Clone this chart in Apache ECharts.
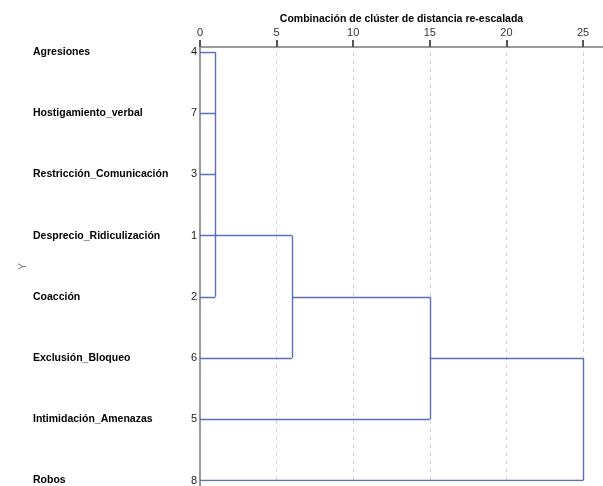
<!DOCTYPE html>
<html>
<head>
<meta charset="utf-8">
<script src="https://cdn.jsdelivr.net/npm/echarts@6/dist/echarts.min.js"></script>
<style>html,body{margin:0;padding:0;background:#fff}#c{width:603px;height:486px}</style>
</head>
<body>
<div id="c"></div>
<script>
// Row labels (top to bottom) and SPSS case numbers
const rowNames = ['Agresiones','Hostigamiento_verbal','Restricción_Comunicación','Desprecio_Ridiculización','Coacción','Exclusión_Bloqueo','Intimidación_Amenazas','Robos'];
const caseNumbers = [4, 7, 3, 1, 2, 6, 5, 8];
// Merge steps: rescaled distance, children (r = row, m = previous merge), row position of the merged cluster line
const mergeDistances = [1, 6, 15, 25];
const mergeChildren = [['r0','r1','r2','r3','r4'], ['m0','r5'], ['m1','r6'], ['m2','r7']];
const mergeRowPos = [3, 4, 5, 6];
// Axis ticks
const xTickMin = 0, xTickMax = 25, xTickStep = 5;

const segs = [];
function childPos(c) {
  const idx = +c.slice(1);
  if (c[0] === 'r') return { x: 0, y: idx };
  return { x: mergeDistances[idx], y: mergeRowPos[idx] };
}
mergeChildren.forEach((ch, i) => {
  const d = mergeDistances[i];
  const ys = [];
  ch.forEach(c => {
    const p = childPos(c);
    ys.push(p.y);
    segs.push({ coords: [[p.x, p.y], [d, p.y]] });
  });
  segs.push({ coords: [[d, Math.min(...ys)], [d, Math.max(...ys)]] });
});

const chart = echarts.init(document.getElementById('c'));
const FONT = 'Arial, "Liberation Sans", sans-serif';
chart.setOption({
  animation: false,
  grid: [
    { left: 200, right: 0, top: 47, bottom: 0 },
    { left: 200, right: 20, top: 52, bottom: 5 }
  ],
  xAxis: [
    { gridIndex: 0, type: 'value', position: 'top', min: 0, max: 1,
      axisLine: { show: true, onZero: false, lineStyle: { color: '#9a9a9a', width: 2 } },
      axisTick: { show: false }, axisLabel: { show: false }, splitLine: { show: false },
      name: 'Combinación de clúster de distancia re-escalada', nameLocation: 'middle', nameGap: 22,
      nameTextStyle: { fontFamily: FONT, fontWeight: 'bold', fontSize: 10.5, color: '#000' } },
    { gridIndex: 1, type: 'value', position: 'top', offset: 5, min: xTickMin, max: xTickMax, interval: xTickStep,
      axisLine: { show: false, onZero: false },
      axisTick: { show: true, length: 7, lineStyle: { color: '#555', width: 2 } },
      axisLabel: { margin: 9, fontFamily: FONT, fontSize: 11, color: '#333' },
      splitLine: { show: true, lineStyle: { color: '#d4d4d4', type: [4, 4], width: 1 } } }
  ],
  yAxis: [
    { gridIndex: 0, type: 'value', min: 0, max: 1,
      axisLine: { show: true, onZero: false, lineStyle: { color: '#9a9a9a', width: 2 } },
      axisTick: { show: false }, axisLabel: { show: false }, splitLine: { show: false },
      name: 'Y', nameLocation: 'middle', nameGap: 172,
      nameTextStyle: { fontFamily: FONT, fontSize: 10, color: '#777' } },
    { gridIndex: 1, type: 'value', inverse: true, min: 0, max: 7, interval: 1,
      axisLine: { show: false, onZero: false }, axisTick: { show: false }, splitLine: { show: false },
      axisLabel: { margin: 3, fontFamily: FONT, fontSize: 11, color: '#222',
        formatter: v => String(caseNumbers[v]) } },
    { gridIndex: 1, type: 'value', position: 'left', inverse: true, min: 0, max: 7, interval: 1,
      axisLine: { show: false, onZero: false }, axisTick: { show: false }, splitLine: { show: false },
      axisLabel: { margin: 167, align: 'left', fontFamily: FONT, fontSize: 10.5, fontWeight: 'bold', color: '#000',
        formatter: v => rowNames[v] } }
  ],
  series: [{
    type: 'lines', coordinateSystem: 'cartesian2d', xAxisIndex: 1, yAxisIndex: 1,
    polyline: false, silent: true,
    lineStyle: { color: '#4a5fb2', width: 1.4, opacity: 0.9 },
    data: segs
  }]
});
</script>
</body>
</html>
